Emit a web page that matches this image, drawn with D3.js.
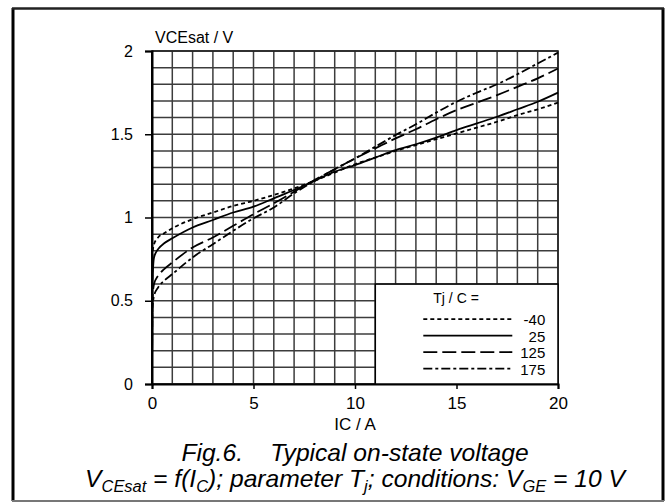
<!DOCTYPE html>
<html>
<head>
<meta charset="utf-8">
<script src="https://cdn.jsdelivr.net/npm/d3@7"></script>
<style>
  body { margin: 0; background: #fff; }
  svg { display: block; font-family: "Liberation Sans", Arial, sans-serif; }
</style>
</head>
<body>
<div id="chart"></div>
<script>
// collector current (A) where the curves were read
const icValues = [0, 0.02, 0.1, 0.3, 0.6, 1, 2, 3, 4, 5, 6, 7, 8, 9, 10, 11, 12, 13, 14, 15, 16, 17, 18, 19, 20];
// VCEsat (V) per junction temperature
const vceMinus40 = [0, 0.78, 0.84, 0.88, 0.905, 0.935, 0.99, 1.03, 1.07, 1.10, 1.135, 1.175, 1.22, 1.27, 1.32, 1.36, 1.40, 1.435, 1.47, 1.505, 1.54, 1.575, 1.615, 1.65, 1.69];
const vce25 = [0, 0.6, 0.76, 0.81, 0.845, 0.875, 0.94, 0.985, 1.03, 1.065, 1.115, 1.165, 1.22, 1.275, 1.315, 1.36, 1.405, 1.44, 1.48, 1.525, 1.565, 1.605, 1.65, 1.695, 1.75];
const vce125 = [0, 0.5, 0.6, 0.65, 0.69, 0.73, 0.82, 0.88, 0.95, 1.02, 1.085, 1.155, 1.225, 1.29, 1.355, 1.415, 1.475, 1.53, 1.59, 1.645, 1.69, 1.735, 1.785, 1.836, 1.895];
const vce175 = [0, 0.45, 0.53, 0.58, 0.62, 0.66, 0.76, 0.84, 0.92, 0.995, 1.06, 1.145, 1.22, 1.29, 1.355, 1.425, 1.495, 1.56, 1.63, 1.695, 1.75, 1.8, 1.86, 1.925, 1.99];
const tempLabels = ["-40", "25", "125", "175"];
const xTicks = [0, 5, 10, 15, 20];
const yTicks = [0, 0.5, 1, 1.5, 2];

const series = [vceMinus40, vce25, vce125, vce175].map((v, i) => ({
  label: tempLabels[i],
  points: icValues.map((x, j) => [x, v[j]])
}));
const dashes = ["4,3", null, "14,5", "9,3,3,3"];

const W = 665, H = 502;
const margin = { top: 51, right: 107, bottom: 118, left: 152 };
const width = W - margin.left - margin.right;
const height = H - margin.top - margin.bottom;

const root = d3.select("#chart").append("svg")
  .attr("width", W)
  .attr("height", H);

// outer frame
root.append("line").attr("x1", 13).attr("x2", 13).attr("y1", 8).attr("y2", 501).attr("stroke", "#000").attr("stroke-width", 3);
root.append("line").attr("x1", 663).attr("x2", 663).attr("y1", 8).attr("y2", 501).attr("stroke", "#000").attr("stroke-width", 3);
root.append("line").attr("x1", 12).attr("x2", 664).attr("y1", 8.5).attr("y2", 8.5).attr("stroke", "#222").attr("stroke-width", 2.5);
root.append("line").attr("x1", 12).attr("x2", 664).attr("y1", 501).attr("y2", 501).attr("stroke", "#777").attr("stroke-width", 2);

const svg = root.append("g")
  .attr("transform", `translate(${margin.left},${margin.top})`);

const x = d3.scaleLinear().domain([0, 20]).range([0, width]);
const y = d3.scaleLinear().domain([0, 2]).range([height, 0]);

// grid
svg.append("g").selectAll("line")
  .data(x.ticks(20))
  .join("line")
  .attr("x1", d => x(d)).attr("x2", d => x(d))
  .attr("y1", 0).attr("y2", height)
  .attr("stroke", "#3c3c3c").attr("stroke-width", 1.5);

svg.append("g").selectAll("line")
  .data(y.ticks(20))
  .join("line")
  .attr("y1", d => y(d)).attr("y2", d => y(d))
  .attr("x1", 0).attr("x2", width)
  .attr("stroke", "#3c3c3c").attr("stroke-width", 1.5);

svg.append("rect")
  .attr("width", width).attr("height", height)
  .attr("fill", "none").attr("stroke", "#222").attr("stroke-width", 1.6);

// axes
const xAxis = svg.append("g")
  .attr("transform", `translate(0,${height})`)
  .call(d3.axisBottom(x).tickValues(xTicks).tickSize(5).tickPadding(8).tickFormat(d3.format("d")));
xAxis.select(".domain").attr("stroke-width", 2);
xAxis.selectAll(".tick line").attr("stroke-width", 1.5);
xAxis.selectAll("text").attr("font-size", 17).attr("fill", "#000").attr("font-family", "Liberation Sans, Arial, sans-serif");

const yAxis = svg.append("g")
  .call(d3.axisLeft(y).tickValues(yTicks).tickSize(7).tickPadding(12).tickFormat(d => String(d)));
yAxis.select(".domain").attr("stroke-width", 2);
yAxis.selectAll(".tick line").attr("stroke-width", 1.5);
yAxis.selectAll("text").attr("font-size", 16).attr("fill", "#000").attr("font-family", "Liberation Sans, Arial, sans-serif");

svg.append("text")
  .attr("x", 3).attr("y", -8)
  .attr("font-size", 16)
  .text("VCEsat / V");

svg.append("text")
  .attr("x", width / 2).attr("y", height + 46)
  .attr("text-anchor", "middle")
  .attr("font-size", 17)
  .text("IC / A");

// legend box
const lx0 = x(11), ly0 = y(0.6);
svg.append("rect")
  .attr("x", lx0).attr("y", ly0)
  .attr("width", x(20) - lx0).attr("height", y(0) - ly0)
  .attr("fill", "#fff").attr("stroke", "#000").attr("stroke-width", 1.5);

// curves
const line = d3.line()
  .x(d => x(d[0]))
  .y(d => y(d[1]))
  .curve(d3.curveMonotoneX);

svg.append("g").selectAll("path")
  .data(series)
  .join("path")
  .attr("d", d => line(d.points))
  .attr("fill", "none")
  .attr("stroke", "#000")
  .attr("stroke-width", 1.8)
  .attr("stroke-dasharray", (d, i) => dashes[i]);

svg.append("line")
  .attr("x1", 0).attr("x2", 0).attr("y1", 0).attr("y2", height)
  .attr("stroke", "#000").attr("stroke-width", 2);

// legend content
const legend = svg.append("g").attr("transform", `translate(${lx0},${ly0})`);
legend.append("text")
  .attr("x", 58).attr("y", 19)
  .attr("font-size", 14)
  .text("Tj / C =");

const rows = legend.selectAll(".row")
  .data(series)
  .join("g")
  .attr("class", "row")
  .attr("transform", (d, i) => `translate(0,${35 + i * 16.5})`);

rows.append("line")
  .attr("x1", 48).attr("x2", 137)
  .attr("stroke", "#000").attr("stroke-width", 1.8)
  .attr("stroke-dasharray", (d, i) => dashes[i]);

rows.append("text")
  .attr("x", 170).attr("dy", "0.4em")
  .attr("text-anchor", "end")
  .attr("font-size", 15)
  .text(d => d.label);

// caption: both lines squeezed by the same factor, centred under the plot
const capCx = 355;

const cap1 = root.append("text")
  .attr("font-size", 24)
  .attr("font-style", "italic")
  .attr("text-anchor", "middle")
  .style("white-space", "pre")
  .text("Fig.6.    Typical on-state voltage");

const cap2 = root.append("text")
  .attr("font-size", 24)
  .attr("font-style", "italic")
  .attr("text-anchor", "middle")
  .style("white-space", "pre");
const parts = [
  ["V", 0], ["CEsat", 1], [" = f(I", 0], ["C", 1], ["); parameter T", 0], ["j", 1],
  ["; conditions: V", 0], ["GE", 1], [" = 10 V", 0]
];
let shifted = false;
parts.forEach(([t, sub]) => {
  const ts = cap2.append("tspan").text(t);
  if (sub) { ts.attr("font-size", 16).attr("dy", shifted ? 0 : 5); shifted = true; }
  else { ts.attr("dy", shifted ? -5 : 0); shifted = false; }
});

const squeeze = 540 / cap2.node().getComputedTextLength();
cap1.attr("transform", `translate(${capCx},461) scale(${squeeze},1)`);
cap2.attr("transform", `translate(${capCx},487) scale(${squeeze},1)`);
</script>
</body>
</html>
